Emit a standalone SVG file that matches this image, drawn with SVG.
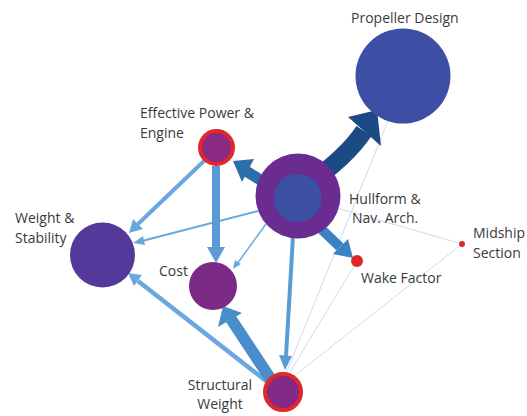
<svg xmlns="http://www.w3.org/2000/svg" width="527" height="416" viewBox="0 0 527 416">
  <style>
    .lbl { font-family: "Open Sans", "Noto Sans", sans-serif; font-size: 14px; fill: #3a3a3a; }
    .faint { stroke: #c9dcef; stroke-width: 1; fill: none; }
    .light { stroke: #6aa7dd; fill: none; }
    .lighthead { fill: #6aa7dd; }
  </style>
  <rect width="527" height="416" fill="#ffffff"/>

  <g id="connectors">
    <!-- faint links -->
    <line class="faint" x1="285" y1="376" x2="388" y2="121"/>
    <line class="faint" x1="287" y1="377" x2="357" y2="261"/>
    <line class="faint" x1="289" y1="380" x2="462" y2="244"/>
    <line class="faint" x1="330" y1="206" x2="462" y2="244"/>

    <!-- hullform to weight & stability (thin) -->
    <line class="light" stroke-width="2" x1="258" y1="211" x2="142" y2="241"/>
    <polygon class="lighthead" points="133,243 143,236 145,245"/>

    <!-- hullform to cost (thin) -->
    <line class="light" stroke-width="1.5" x1="266" y1="224" x2="237" y2="264"/>
    <polygon class="lighthead" points="233,269 235,260 241,264"/>

    <!-- effective power to weight & stability -->
    <line class="light" stroke-width="4" x1="205" y1="160" x2="138" y2="224"/>
    <polygon class="lighthead" points="129,233 133,219 143,229"/>

    <!-- structural weight to weight & stability -->
    <line class="light" stroke-width="4.5" x1="270" y1="384" x2="138" y2="281"/>
    <polygon class="lighthead" points="128,273 142,275 134,286"/>

    <!-- hullform to structural weight -->
    <line stroke="#5b9bd5" stroke-width="4" x1="293" y1="236" x2="286" y2="356"/>
    <polygon fill="#5b9bd5" points="285,370 279,355 292,356"/>

    <!-- effective power to cost -->
    <line stroke="#5b9bd5" stroke-width="8" x1="216" y1="166" x2="216" y2="248"/>
    <polygon fill="#5b9bd5" points="216,263 207,247 225,247"/>

    <!-- structural weight to cost -->
    <polygon fill="#4a8dcc" points="279,381 265,381 226,322 236,316"/>
    <polygon fill="#4a8dcc" points="223,306 218,327 242,313"/>

    <!-- hullform to wake factor -->
    <line stroke="#3a82c4" stroke-width="10" x1="318" y1="226" x2="340" y2="247"/>
    <polygon fill="#3a82c4" points="353,258 333,254 348,239"/>

    <!-- hullform to effective power -->
    <line stroke="#2b6faa" stroke-width="11" x1="262" y1="181" x2="246" y2="171"/>
    <polygon fill="#2b6faa" points="233,161 254,159 242,182"/>

    <!-- hullform to propeller design -->
    <path d="M 305 186 Q 346 158 364 131" stroke="#1c4a85" stroke-width="18" fill="none"/>
    <polygon fill="#1c4a85" points="377,110 348,117 381,146"/>
  </g>

  <g id="propeller-design">
    <circle cx="403" cy="76" r="47.5" fill="#3c4fa4"/>
    <text class="lbl" x="351" y="23">Propeller Design</text>
  </g>

  <g id="hullform">
    <circle cx="298" cy="196" r="42.5" fill="#6a2c91"/>
    <circle cx="297.5" cy="198" r="24" fill="#3b50a3"/>
    <text class="lbl" x="349" y="204">Hullform &amp;</text>
    <text class="lbl" x="352" y="223">Nav. Arch.</text>
  </g>

  <g id="effective-power">
    <circle cx="216.5" cy="147.5" r="16.5" fill="#8a2a82" stroke="#e32626" stroke-width="4"/>
    <text class="lbl" x="140" y="118">Effective Power &amp;</text>
    <text class="lbl" x="140" y="138">Engine</text>
  </g>

  <g id="weight-stability">
    <circle cx="102.5" cy="255" r="32.5" fill="#55399a"/>
    <text class="lbl" x="15" y="223">Weight &amp;</text>
    <text class="lbl" x="15" y="243">Stability</text>
  </g>

  <g id="cost">
    <circle cx="213" cy="286" r="24" fill="#7b2a85"/>
    <text class="lbl" x="159" y="276">Cost</text>
  </g>

  <g id="wake-factor">
    <circle cx="357" cy="261" r="6" fill="#e0242a"/>
    <text class="lbl" x="361" y="283">Wake Factor</text>
  </g>

  <g id="midship-section">
    <circle cx="462" cy="244" r="3" fill="#e0242a"/>
    <text class="lbl" x="473" y="238">Midship</text>
    <text class="lbl" x="473" y="258">Section</text>
  </g>

  <g id="structural-weight">
    <circle cx="283" cy="392" r="18" fill="#832a87" stroke="#e02828" stroke-width="4"/>
    <text class="lbl" x="220" y="390" text-anchor="middle">Structural</text>
    <text class="lbl" x="220" y="409" text-anchor="middle">Weight</text>
  </g>
</svg>
